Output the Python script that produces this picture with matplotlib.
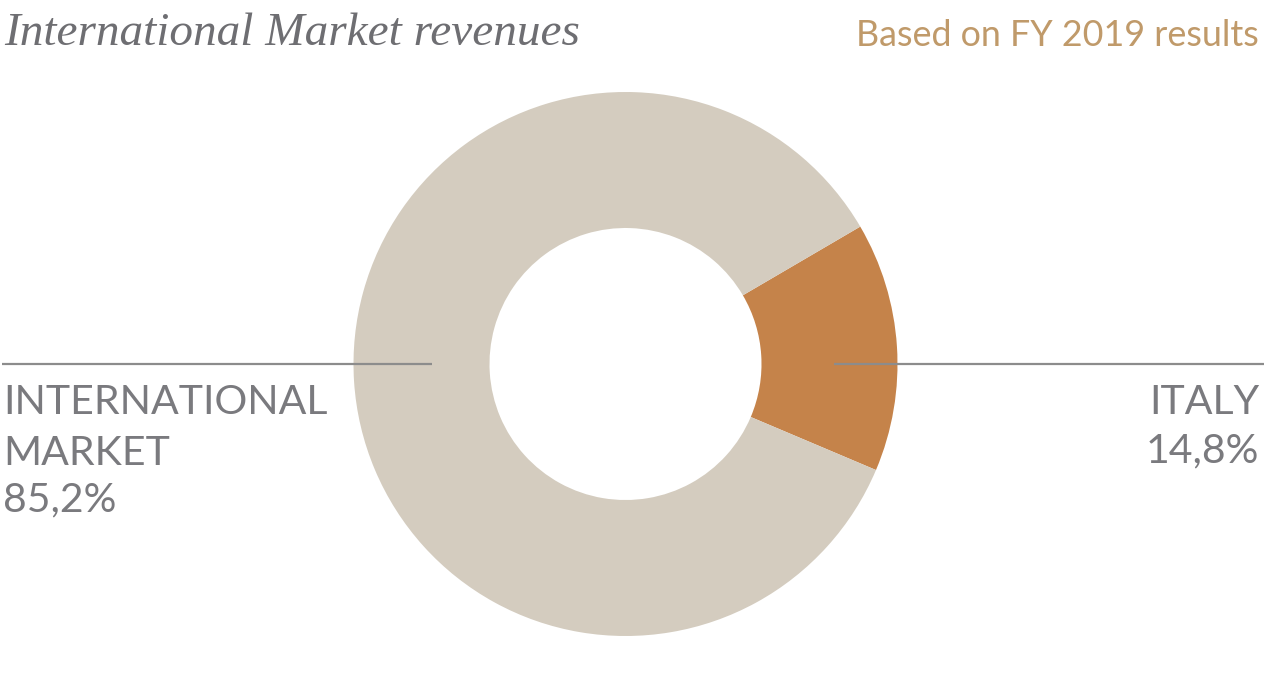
import matplotlib
matplotlib.use("Agg")
import matplotlib.pyplot as plt

# data
labels = ["ITALY", "INTERNATIONAL\nMARKET"]
shares = [14.8, 85.2]
colors = ["#c5834a", "#d4ccbf"]
title = "International Market revenues"
subtitle = "Based on FY 2019 results"

W, H = 1266, 690
fig = plt.figure(figsize=(W / 100, H / 100), dpi=100)
ax = fig.add_axes([0, 0, 1, 1])

cx, cy = 625.5, H - 364
ax.pie(shares, colors=colors, center=(cx, cy), radius=272,
       startangle=3.7 - shares[0] * 3.6 / 2, counterclock=True,
       wedgeprops=dict(width=136, linewidth=0))

ax.set_xlim(0, W)
ax.set_ylim(0, H)
ax.set_aspect("auto")
ax.axis("off")

grey = "#7a7a7e"
line_c = "#8c8c8c"
ax.plot([2, 432], [cy, cy], color=line_c, lw=1.6, solid_capstyle="butt")
ax.plot([834, 1264], [cy, cy], color=line_c, lw=1.6, solid_capstyle="butt")

sans = ["Lato", "DejaVu Sans"]
fs = 29.5

ax.text(3, H - 414, "INTERNATIONAL", family=sans, fontsize=fs,
        color=grey, ha="left", va="baseline")
ax.text(3, H - 465, "MARKET", family=sans, fontsize=fs,
        color=grey, ha="left", va="baseline")
ax.text(3, H - 511, f"{shares[1]:.1f}%".replace(".", ","), family=sans,
        fontsize=fs, color=grey, ha="left", va="baseline")

ax.text(1259, H - 414, labels[0], family=sans, fontsize=fs,
        color=grey, ha="right", va="baseline")
ax.text(1259, H - 462, f"{shares[0]:.1f}%".replace(".", ","), family=sans,
        fontsize=fs, color=grey, ha="right", va="baseline")

ax.text(4, H - 45, title, family=["Liberation Serif", "DejaVu Serif"],
        style="italic", fontsize=34, color="#6e6e72", ha="left", va="baseline")
ax.text(1259, H - 46, subtitle, family=sans, fontsize=25.8, color="#c09a6a",
        ha="right", va="baseline")

fig.savefig("out.png", dpi=100)
